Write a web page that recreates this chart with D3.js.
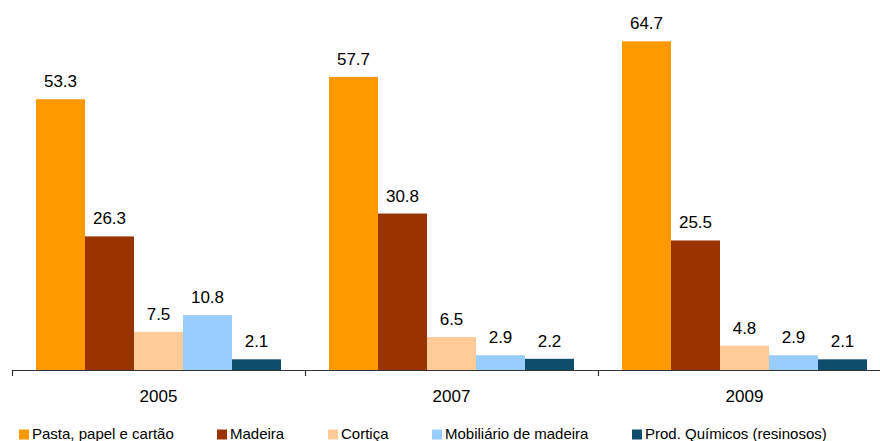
<!DOCTYPE html>
<html><head><meta charset="utf-8">
<script src="https://cdn.jsdelivr.net/npm/d3@7"></script>
<style>body{margin:0;background:#fff}svg{display:block}text{font-family:Arial,"Liberation Sans",sans-serif;fill:#000}</style>
</head><body><svg id="c" width="880" height="441"></svg>
<script>
const years = ["2005","2007","2009"];
const seriesNames = ["Pasta, papel e cartão","Madeira","Cortiça","Mobiliário de madeira","Prod. Químicos (resinosos)"];
const seriesColors = ["#FF9900","#993300","#FFCC99","#99CCFF","#0E4D6C"];
const pasta = [53.3,57.7,64.7];
const madeira = [26.3,30.8,25.5];
const cortica = [7.5,6.5,4.8];
const mobiliario = [10.8,2.9,2.9];
const quimicos = [2.1,2.2,2.1];
const values = [pasta,madeira,cortica,mobiliario,quimicos];
const legendX = [19,217,328,432,632];

const svg = d3.select("#c");
const x0 = d3.scaleBand().domain(years).range([12,891]).paddingInner(0).paddingOuter(0);
const x1 = d3.scaleBand().domain(d3.range(5)).range([24, x0.bandwidth()-24]).padding(0);
const y = d3.scaleLinear().domain([0,70]).range([370,14.4]);

const g = svg.append("g");
years.forEach((yr,i)=>{
  const gg = g.append("g").attr("transform",`translate(${x0(yr)},0)`);
  values.forEach((s,j)=>{
    gg.append("rect").attr("x",x1(j)).attr("width",x1.bandwidth()).attr("y",y(s[i])).attr("height",y(0)-y(s[i])).attr("fill",seriesColors[j]);
    gg.append("text").attr("x",x1(j)+x1.bandwidth()/2).attr("y",y(s[i])-12).attr("text-anchor","middle").style("font-size","17px").text(s[i].toFixed(1));
  });
});

// axis
svg.append("line").attr("x1",12).attr("x2",880).attr("y1",370.5).attr("y2",370.5).attr("stroke","#333").attr("stroke-width",1.2);
years.forEach(yr=>{
  svg.append("line").attr("x1",x0(yr)+0.5).attr("x2",x0(yr)+0.5).attr("y1",370).attr("y2",376).attr("stroke","#333").attr("stroke-width",1.2);
  svg.append("text").attr("x",x0(yr)+x0.bandwidth()/2).attr("y",401.5).attr("text-anchor","middle").style("font-size","17px").text(yr);
});

// legend
seriesNames.forEach((n,j)=>{
  svg.append("rect").attr("x",legendX[j]).attr("y",429.5).attr("width",10).attr("height",10).attr("fill",seriesColors[j]);
  svg.append("text").attr("x",legendX[j]+13).attr("y",439).style("font-size","15px").text(n);
});
</script></body></html>
